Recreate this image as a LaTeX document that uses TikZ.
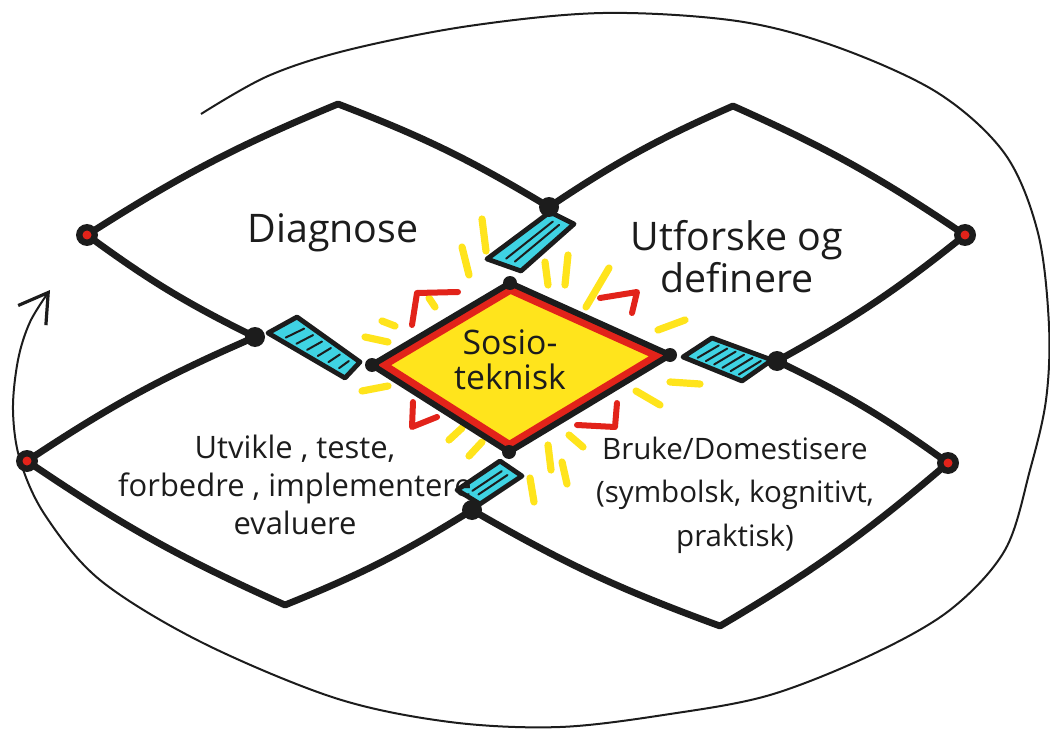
\documentclass[tikz,border=0pt]{standalone}
\usepackage{fontspec}
\setmainfont{Open Sans}
\usetikzlibrary{calc,arrows.meta}

\definecolor{marker}{HTML}{1C1C1C}
\definecolor{sunyellow}{HTML}{FFE41C}
\definecolor{penred}{HTML}{E2231A}
\definecolor{tapecyan}{HTML}{3FD3E3}

\begin{document}
\begin{tikzpicture}[x=0.25mm,y=0.25mm,
  lens/.style={marker,line width=1.7mm,line cap=round,line join=round},
  tape/.style={fill=tapecyan,draw=marker,line width=1.2mm,line join=round},
  hatch/.style={marker,line width=0.5mm,line cap=round},
  ray/.style={sunyellow,line width=1.8mm,line cap=round},
  bracket/.style={penred,line width=1.5mm,line cap=round,line join=round},
  hand/.style={text=marker,align=center,inner sep=0pt,
    font=\fontsize{22}{28}\selectfont}]

  \useasboundingbox (0,0) rectangle (1050,-730);

  % Outer cycle with arrow
  \draw[marker,line width=0.5mm,
        -{Straight Barb[length=7mm,width=8.5mm,line width=0.8mm]}]
    plot[smooth,tension=0.55] coordinates {(201,-114) (268,-76) (348,-50)
      (469,-26) (603,-13) (737,-21) (837,-47) (938,-93) (1005,-154)
      (1038,-233) (1049,-326) (1046,-400) (1030,-470) (1005,-550)
      (950,-610) (871,-655) (770,-695) (670,-714) (560,-727) (450,-722)
      (335,-698) (201,-642) (100,-580) (45,-515) (20,-460) (13,-410)
      (18,-360) (30,-322) (50,-290)};

  % Lens corners
  \coordinate (tlL) at (87,-235);
  \coordinate (tlT) at (338,-104);
  \coordinate (trT) at (733,-106);
  \coordinate (trR) at (965,-235);
  \coordinate (brR) at (948,-463);
  \coordinate (brB) at (720,-626);
  \coordinate (blB) at (285,-605);
  \coordinate (blL) at (27,-461);

  % Junctions where the lenses meet
  \coordinate (jT) at (549,-207);
  \coordinate (jL) at (255,-337);
  \coordinate (jR) at (777,-361);
  \coordinate (jB) at (472,-510);

  % Central diamond
  \coordinate (cL) at (372,-365);
  \coordinate (cT) at (510,-283);
  \coordinate (cR) at (670,-355);
  \coordinate (cB) at (509,-452);
  \coordinate (cC) at (515,-365);

  % Yellow rays round the centre
  \foreach \xa/\ya/\xb/\yb in {482/219/486/251, 462/247/469/275,
      545/262/548/285, 568/255/565/285, 609/268/586/307, 658/330/685/320,
      670/382/700/384, 636/391/660/405, 548/445/551/470, 562/462/567/484,
      530/478/534/502, 569/435/583/447, 449/440/462/428, 469/456/482/442,
      362/391/388/386, 365/337/388/342, 382/321/395/326, 429/298/435/307}
    \draw[ray] (\xa,-\ya) -- (\xb,-\yb);

  % Red corner marks
  \draw[bracket] (412,-325) -- (417,-293) -- (458,-292);
  \draw[bracket] (600,-298) -- (637,-292) -- (632,-313);
  \draw[bracket] (413,-402) -- (412,-427) -- (437,-417);
  \draw[bracket] (577,-425) -- (615,-427) -- (617,-403);

  % Yellow diamond with red and black outline
  \fill[sunyellow] (cL) -- (cT) -- (cR) -- (cB) -- cycle;
  \draw[penred,line width=2.4mm,line join=round]
    ($(cL)!0.07!(cC)$) -- ($(cT)!0.07!(cC)$) -- ($(cR)!0.07!(cC)$)
    -- ($(cB)!0.07!(cC)$) -- cycle;
  \draw[marker,line width=1.5mm,line join=round]
    (cL) -- (cT) -- (cR) -- (cB) -- cycle;

  % Four lenses
  \draw[lens] (jL) to[bend left=5] (tlL) to[bend left=5] (tlT)
    to[bend left=5] (jT);
  \draw[lens] (jT) to[bend left=5] (trT) to[bend left=5] (trR)
    to[bend left=5] (jR);
  \draw[lens] (jR) to[bend left=5] (brR) to[bend left=5] (brB)
    to[bend left=5] (jB);
  \draw[lens] (jB) to[bend left=5] (blB) to[bend left=5] (blL)
    to[bend left=5] (jL);

  % Cyan tape links
  \coordinate (tA) at (550,-212); \coordinate (tB) at (574,-224);
  \coordinate (tC) at (521,-271); \coordinate (tD) at (487,-259);
  \draw[tape] (tA) -- (tB) -- (tC) -- (tD) -- cycle;
  \foreach \t in {0.38,0.64}
    \draw[hatch,shorten <=2mm,shorten >=2mm]
      ($(tA)!\t!(tB)$) -- ($(tD)!\t!(tC)$);

  \coordinate (bA) at (500,-461); \coordinate (bB) at (522,-476);
  \coordinate (bC) at (480,-504); \coordinate (bD) at (457,-490);
  \draw[tape] (bA) -- (bB) -- (bC) -- (bD) -- cycle;
  \foreach \t in {0.38,0.64}
    \draw[hatch,shorten <=2mm,shorten >=2mm]
      ($(bA)!\t!(bB)$) -- ($(bD)!\t!(bC)$);

  \coordinate (lA) at (268,-333); \coordinate (lB) at (297,-317);
  \coordinate (lC) at (360,-362); \coordinate (lD) at (345,-378);
  \draw[tape] (lA) -- (lB) -- (lC) -- (lD) -- cycle;
  \foreach \t in {0.16,0.3,...,0.86}
    \draw[hatch,shorten <=1.5mm,shorten >=1.5mm]
      ($(lA)!\t!(lD)$) -- ($(lB)!\t+0.04!(lC)$);

  \coordinate (rA) at (683,-357); \coordinate (rB) at (712,-338);
  \coordinate (rC) at (772,-360); \coordinate (rD) at (742,-381);
  \draw[tape] (rA) -- (rB) -- (rC) -- (rD) -- cycle;
  \foreach \t in {0.16,0.3,...,0.86}
    \draw[hatch,shorten <=1.5mm,shorten >=1.5mm]
      ($(rA)!\t!(rD)$) -- ($(rB)!\t+0.04!(rC)$);

  % Dots on the corners
  \foreach \p in {jT,jL,jR,jB}
    \fill[marker] (\p) circle[radius=10];
  \foreach \p in {cL,cT,cR,cB}
    \fill[marker] (\p) circle[radius=7];
  \foreach \p in {tlL,trR,brR,blL} {
    \fill[marker] (\p) circle[radius=11];
    \fill[penred] (\p) circle[radius=4.5];
  }

  % Labels
  \node[hand,font=\fontsize{28}{32}\selectfont] (diag) at (333,-233) {Diagnose};
  \node[hand,font=\fontsize{28}{30}\selectfont] (utforsk) at (737,-257)
    {Utforske og\\definere};
  \node[hand,font=\fontsize{22}{27}\selectfont] (utvikl) at (295,-485)
    {Utvikle , teste,\\forbedre , implementere\\evaluere};
  \node[hand,font=\fontsize{21}{31}\selectfont] (bruk) at (735,-495)
    {Bruke/Domestisere\\(symbolsk, kognitivt,\\praktisk)};
  \node[hand,font=\fontsize{24}{25}\selectfont] (sosio) at (510,-360)
    {Sosio-\\teknisk};

\end{tikzpicture}
\end{document}
